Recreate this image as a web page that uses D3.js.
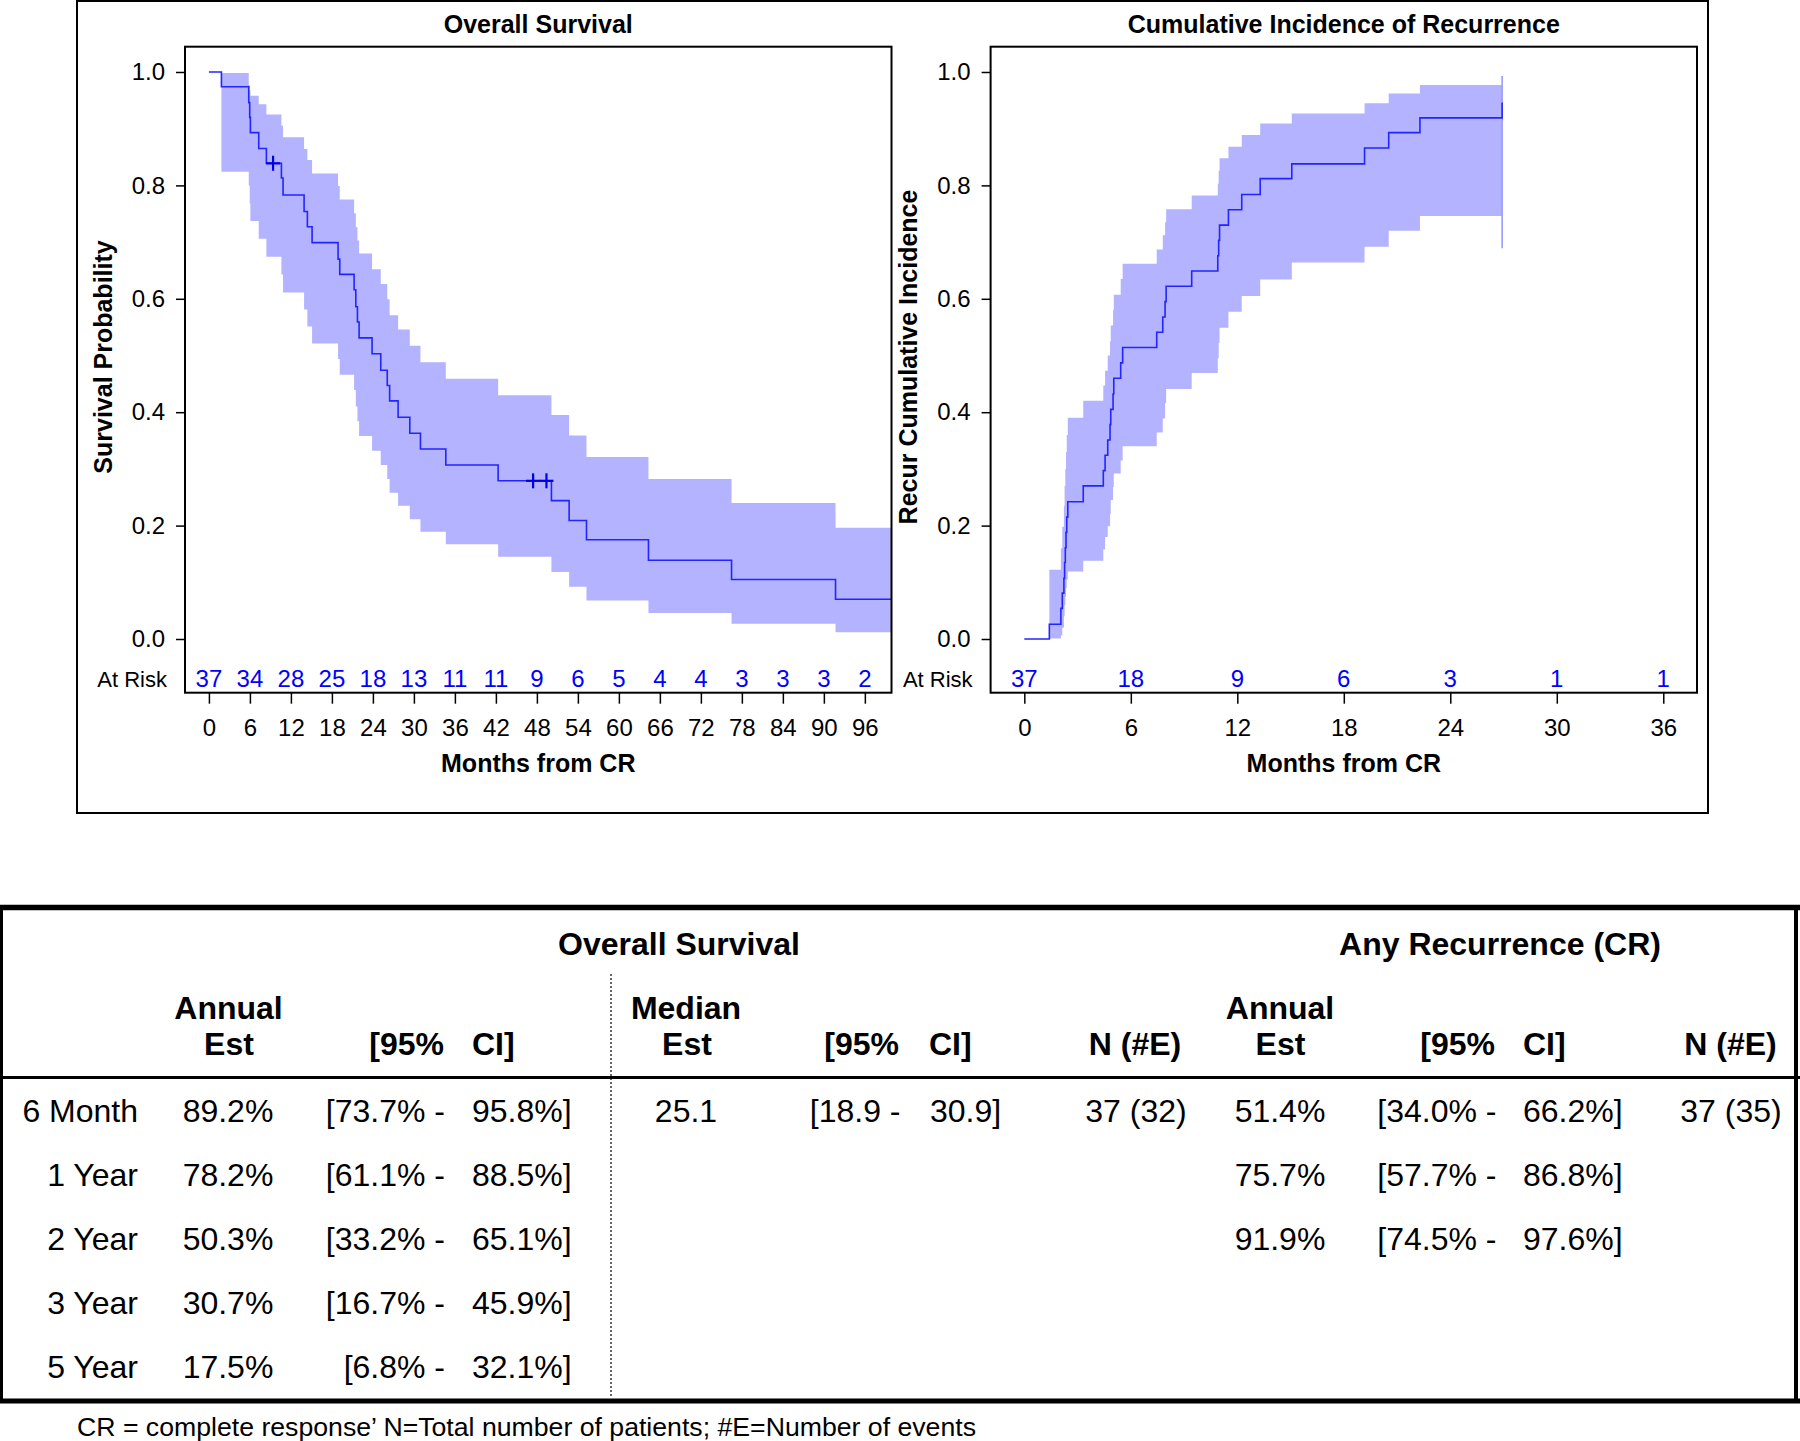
<!DOCTYPE html>
<html><head><meta charset="utf-8">
<script src="https://cdn.jsdelivr.net/npm/d3@7"></script>
<style>
html,body{margin:0;padding:0;background:#fff;}
svg{display:block;}
text{font-family:"Liberation Sans", Arial, Helvetica, sans-serif;}
</style></head><body>
<svg id="chart" width="1800" height="1441"></svg>
<script>
// ================= DATA =================
// Overall survival (Kaplan-Meier) – step start times (months), estimate and 95% band
const osTimes = [0, 1.83, 5.83, 5.97, 6.07, 7.29, 8.41, 10.61, 10.85, 13.93, 14.41, 15.1, 18.9, 19.15, 21.25, 21.5, 21.74, 21.98, 23.88, 25.15, 26.1, 26.45, 27.69, 29.4, 30.96, 34.67, 42.33, 50.13, 52.72, 55.26, 64.33, 76.49, 91.71];
const osSurv  = [1.000, 0.974, 0.946, 0.920, 0.893, 0.865, 0.839, 0.813, 0.783, 0.754, 0.727, 0.699, 0.670, 0.643, 0.616, 0.586, 0.559, 0.531, 0.503, 0.474, 0.447, 0.420, 0.391, 0.363, 0.335, 0.307, 0.279, 0.244, 0.209, 0.175, 0.139, 0.105, 0.070];
const osLower = [1.000, 0.824, 0.800, 0.768, 0.737, 0.706, 0.674, 0.643, 0.611, 0.581, 0.551, 0.521, 0.494, 0.466, 0.439, 0.410, 0.384, 0.358, 0.332, 0.307, 0.282, 0.258, 0.235, 0.211, 0.189, 0.167, 0.145, 0.118, 0.092, 0.068, 0.046, 0.027, 0.012];
const osUpper = [1.000, 0.998, 0.977, 0.968, 0.958, 0.943, 0.925, 0.905, 0.885, 0.864, 0.845, 0.821, 0.799, 0.775, 0.751, 0.726, 0.703, 0.680, 0.652, 0.626, 0.599, 0.571, 0.546, 0.517, 0.488, 0.459, 0.430, 0.395, 0.359, 0.321, 0.282, 0.240, 0.196];
const osLastFollowUp = 99.9;
const osCensorTimes = [9.39, 47.45, 49.4];
const osCensorSurv  = [0.839, 0.279, 0.279];
const osXTicks  = [0, 6, 12, 18, 24, 30, 36, 42, 48, 54, 60, 66, 72, 78, 84, 90, 96];
const osAtRisk  = [37, 34, 28, 25, 18, 13, 11, 11, 9, 6, 5, 4, 4, 3, 3, 3, 2];

// Cumulative incidence of recurrence
const cirTimes = [0, 1.41, 2.06, 2.14, 2.23, 2.27, 2.31, 2.35, 2.39, 2.45, 3.32, 4.45, 4.55, 4.70, 4.83, 4.87, 5.00, 5.04, 5.43, 5.54, 7.46, 7.80, 7.93, 7.99, 9.43, 10.90, 10.95, 11.00, 11.50, 12.25, 13.29, 15.07, 19.17, 20.53, 22.29, 26.92];
const cirInc   = [0, 0.026, 0.054, 0.081, 0.107, 0.135, 0.161, 0.188, 0.215, 0.242, 0.270, 0.297, 0.324, 0.351, 0.378, 0.405, 0.432, 0.460, 0.487, 0.514, 0.541, 0.568, 0.595, 0.622, 0.649, 0.676, 0.703, 0.730, 0.757, 0.784, 0.812, 0.838, 0.866, 0.893, 0.919, 0.946];
const cirLower = [0, 0.001, 0.006, 0.020, 0.040, 0.060, 0.075, 0.090, 0.105, 0.119, 0.138, 0.158, 0.180, 0.199, 0.220, 0.245, 0.268, 0.292, 0.315, 0.340, 0.364, 0.389, 0.416, 0.441, 0.469, 0.495, 0.522, 0.549, 0.577, 0.605, 0.634, 0.664, 0.692, 0.720, 0.746, 0.689];
const cirUpper = [0, 0.122, 0.160, 0.198, 0.235, 0.270, 0.300, 0.330, 0.360, 0.390, 0.420, 0.447, 0.473, 0.500, 0.525, 0.553, 0.580, 0.607, 0.635, 0.662, 0.687, 0.712, 0.735, 0.758, 0.782, 0.803, 0.826, 0.848, 0.868, 0.889, 0.909, 0.927, 0.945, 0.962, 0.977, 0.993];
const cirXTicks = [0, 6, 12, 18, 24, 30, 36];
const cirAtRisk = [37, 18, 9, 6, 3, 1, 1];

const yTicks = [0, 0.2, 0.4, 0.6, 0.8, 1.0];

// Table
const tblRowLabels = ["6 Month", "1 Year", "2 Year", "3 Year", "5 Year"];
const tblOsEst = ["89.2%", "78.2%", "50.3%", "30.7%", "17.5%"];
const tblOsLo  = ["[73.7% -", "[61.1% -", "[33.2% -", "[16.7% -", "[6.8% -"];
const tblOsHi  = ["95.8%]", "88.5%]", "65.1%]", "45.9%]", "32.1%]"];
const tblMedian = ["25.1", "[18.9 -", "30.9]", "37 (32)"];
const tblRecEst = ["51.4%", "75.7%", "91.9%"];
const tblRecLo  = ["[34.0% -", "[57.7% -", "[74.5% -"];
const tblRecHi  = ["66.2%]", "86.8%]", "97.6%]"];
const tblRecN   = "37 (35)";
const footnote = "CR = complete response\u2019 N=Total number of patients; #E=Number of events";

// ================= DRAW =================
const svg = d3.select("#chart");
const CURVE = "#2424ff", BAND = "#b3b3ff", RISK = "#0000ff";
const PLOT_TOP = 46.7, PLOT_BOTTOM = 692.7;
const Y_DOMAIN = [-0.0947, 1.0446];

svg.append("rect").attr("x", 77).attr("y", 1).attr("width", 1631).attr("height", 812)
  .attr("fill", "none").attr("stroke", "#000").attr("stroke-width", 2);

function drawPanel(p) {
  const x = d3.scaleLinear().domain(p.xDomain).range([p.left, p.right]);
  const y = d3.scaleLinear().domain(Y_DOMAIN).range([PLOT_BOTTOM, PLOT_TOP]);
  const g = svg.append("g");
  g.append("clipPath").attr("id", p.id + "clip").append("rect")
    .attr("x", p.left).attr("y", PLOT_TOP).attr("width", p.right - p.left).attr("height", PLOT_BOTTOM - PLOT_TOP);
  const inner = g.append("g").attr("clip-path", `url(#${p.id}clip)`);

  const area = d3.area().x(d => x(d.t)).y0(d => y(d.lo)).y1(d => y(d.hi)).curve(d3.curveStepAfter);
  inner.append("path").datum(p.band).attr("d", area).attr("fill", BAND).attr("stroke", "none");
  if (p.finalBand) {
    inner.append("line").attr("x1", x(p.finalBand.t)).attr("x2", x(p.finalBand.t))
      .attr("y1", y(p.finalBand.lo)).attr("y2", y(p.finalBand.hi))
      .attr("stroke", "#9a9aff").attr("stroke-width", 1.6);
  }
  const line = d3.line().x(d => x(d.t)).y(d => y(d.v)).curve(d3.curveStepAfter);
  inner.append("path").datum(p.curve).attr("d", line).attr("fill", "none")
    .attr("stroke", CURVE).attr("stroke-width", 1.6);

  if (p.censor) {
    p.censor.forEach(c => {
      const cx = x(c.t), cy = y(c.v);
      inner.append("line").attr("x1", cx - 7).attr("x2", cx + 7).attr("y1", cy).attr("y2", cy)
        .attr("stroke", "#0000e0").attr("stroke-width", 2.2);
      inner.append("line").attr("x1", cx).attr("x2", cx).attr("y1", cy - 7.5).attr("y2", cy + 7.5)
        .attr("stroke", "#0000e0").attr("stroke-width", 2.2);
    });
  }

  // at risk
  g.append("text").attr("x", p.left - 18).attr("y", 687).attr("text-anchor", "end")
    .attr("font-size", 22).attr("fill", "#000").text("At Risk");
  g.selectAll(null).data(p.xTicks).enter().append("text")
    .attr("x", d => x(d)).attr("y", 687).attr("text-anchor", "middle")
    .attr("font-size", 24).attr("fill", RISK).text((d, i) => p.atRisk[i]);

  // frame
  g.append("rect").attr("x", p.left).attr("y", PLOT_TOP).attr("width", p.right - p.left)
    .attr("height", PLOT_BOTTOM - PLOT_TOP).attr("fill", "none").attr("stroke", "#000").attr("stroke-width", 2);

  // y axis
  const ya = g.append("g").attr("transform", `translate(${p.left},0)`)
    .call(d3.axisLeft(y).tickValues(yTicks).tickFormat(d3.format(".1f")).tickSize(9).tickPadding(11));
  ya.select(".domain").remove();
  ya.selectAll("line").attr("stroke", "#000").attr("stroke-width", 1.5);
  ya.selectAll("text").attr("font-size", 24).attr("fill", "#000")
    .attr("font-family", '"Liberation Sans", Arial, sans-serif');

  // x axis
  const xa = g.append("g").attr("transform", `translate(0,${PLOT_BOTTOM})`)
    .call(d3.axisBottom(x).tickValues(p.xTicks).tickFormat(d3.format("d")).tickSize(11).tickPadding(15));
  xa.select(".domain").remove();
  xa.selectAll("line").attr("stroke", "#000").attr("stroke-width", 1.5);
  xa.selectAll("text").attr("font-size", 24).attr("fill", "#000")
    .attr("font-family", '"Liberation Sans", Arial, sans-serif');

  const cx = (p.left + p.right) / 2;
  g.append("text").attr("x", cx).attr("y", 33).attr("text-anchor", "middle")
    .attr("font-size", 25).attr("font-weight", "bold").text(p.title);
  g.append("text").attr("x", cx).attr("y", 772).attr("text-anchor", "middle")
    .attr("font-size", 25).attr("font-weight", "bold").text("Months from CR");
  g.append("text").attr("transform", `translate(${p.yLabelX},357) rotate(-90)`).attr("text-anchor", "middle")
    .attr("font-size", 25).attr("font-weight", "bold").text(p.yLabel);
}

// OS panel data
const osCurve = osTimes.map((t, i) => ({t, v: osSurv[i]}));
osCurve.push({t: osLastFollowUp, v: osSurv[osSurv.length - 1]});
const osBand = osTimes.slice(1).map((t, j) => ({t, lo: osLower[j + 1], hi: osUpper[j + 1]}));
osBand.push({t: osLastFollowUp, lo: osLower[osLower.length - 1], hi: osUpper[osUpper.length - 1]});

drawPanel({
  id: "os", left: 185, right: 891.5, xDomain: [-3.5, 99.9],
  xTicks: osXTicks, atRisk: osAtRisk, title: "Overall Survival",
  yLabel: "Survival Probability", yLabelX: 112,
  curve: osCurve, band: osBand,
  censor: osCensorTimes.map((t, i) => ({t, v: osCensorSurv[i]}))
});

// CIR panel data
const nC = cirTimes.length;
const cirCurve = cirTimes.map((t, i) => ({t, v: cirInc[i]}));
const cirBand = cirTimes.slice(1, nC - 1).map((t, j) => ({t, lo: cirLower[j + 1], hi: cirUpper[j + 1]}));
cirBand.push({t: cirTimes[nC - 1], lo: cirLower[nC - 2], hi: cirUpper[nC - 2]});

drawPanel({
  id: "cir", left: 990.6, right: 1697, xDomain: [-1.9, 37.9],
  xTicks: cirXTicks, atRisk: cirAtRisk, title: "Cumulative Incidence of Recurrence",
  yLabel: "Recur Cumulative Incidence", yLabelX: 917,
  curve: cirCurve, band: cirBand,
  finalBand: {t: cirTimes[nC - 1], lo: cirLower[nC - 1], hi: cirUpper[nC - 1]}
});

// ================= TABLE =================
const T = svg.append("g").attr("font-size", 32).attr("fill", "#000");
T.append("line").attr("x1", 0).attr("x2", 1800).attr("y1", 907.5).attr("y2", 907.5).attr("stroke", "#000").attr("stroke-width", 5.5);
T.append("line").attr("x1", 0).attr("x2", 1800).attr("y1", 1401).attr("y2", 1401).attr("stroke", "#000").attr("stroke-width", 5);
T.append("line").attr("x1", 0).attr("x2", 1800).attr("y1", 1077.5).attr("y2", 1077.5).attr("stroke", "#000").attr("stroke-width", 3);
T.append("line").attr("x1", 1.5).attr("x2", 1.5).attr("y1", 905).attr("y2", 1403).attr("stroke", "#000").attr("stroke-width", 3);
T.append("line").attr("x1", 1796).attr("x2", 1796).attr("y1", 905).attr("y2", 1403).attr("stroke", "#000").attr("stroke-width", 4);
T.append("line").attr("x1", 611).attr("x2", 611).attr("y1", 974).attr("y2", 1398).attr("stroke", "#000")
  .attr("stroke-width", 1.2).attr("stroke-dasharray", "2,2");

function txt(s, xx, yy, anchor, bold) {
  T.append("text").attr("x", xx).attr("y", yy).attr("text-anchor", anchor)
    .attr("font-weight", bold ? "bold" : "normal").text(s);
}
// headers
txt("Overall Survival", 679, 955, "middle", true);
txt("Any Recurrence (CR)", 1500, 955, "middle", true);
txt("Annual", 228.5, 1019, "middle", true); txt("Est", 229, 1055, "middle", true);
txt("[95%", 444, 1055, "end", true); txt("CI]", 472, 1055, "start", true);
txt("Median", 686, 1019, "middle", true); txt("Est", 687, 1055, "middle", true);
txt("[95%", 899, 1055, "end", true); txt("CI]", 929, 1055, "start", true);
txt("N (#E)", 1135, 1055, "middle", true);
txt("Annual", 1280, 1019, "middle", true); txt("Est", 1280.5, 1055, "middle", true);
txt("[95%", 1495, 1055, "end", true); txt("CI]", 1523, 1055, "start", true);
txt("N (#E)", 1730.5, 1055, "middle", true);

const rowY = [1122, 1186, 1250, 1314, 1378];
tblRowLabels.forEach((s, i) => {
  txt(s, 138, rowY[i], "end");
  txt(tblOsEst[i], 228, rowY[i], "middle");
  txt(tblOsLo[i], 445, rowY[i], "end");
  txt(tblOsHi[i], 472, rowY[i], "start");
});
txt(tblMedian[0], 686, rowY[0], "middle");
txt(tblMedian[1], 900.5, rowY[0], "end");
txt(tblMedian[2], 930, rowY[0], "start");
txt(tblMedian[3], 1136, rowY[0], "middle");
tblRecEst.forEach((s, i) => {
  txt(s, 1280, rowY[i], "middle");
  txt(tblRecLo[i], 1496.5, rowY[i], "end");
  txt(tblRecHi[i], 1523, rowY[i], "start");
});
txt(tblRecN, 1731, rowY[0], "middle");

svg.append("text").attr("x", 77).attr("y", 1436).attr("font-size", 25)
  .attr("font-family", "Carlito, Lato, 'Open Sans', sans-serif")
  .attr("textLength", 899).attr("lengthAdjust", "spacingAndGlyphs")
  .attr("fill", "#000").text(footnote);
</script>
</body></html>
